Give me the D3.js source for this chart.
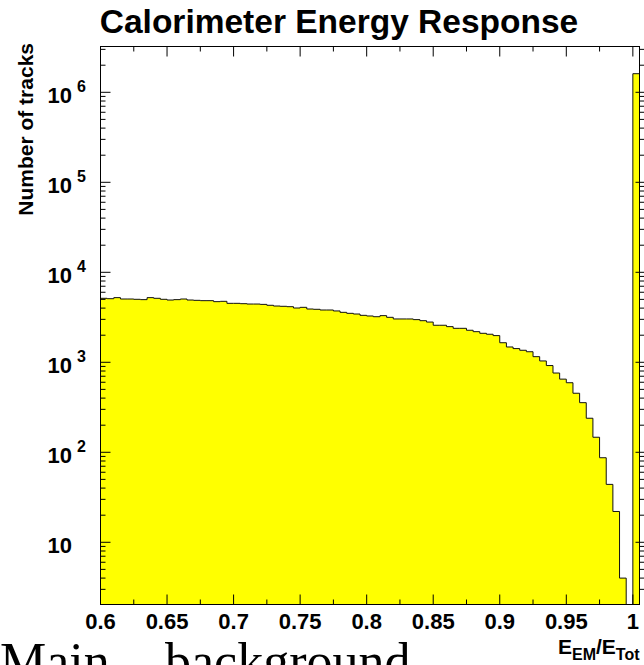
<!DOCTYPE html>
<html><head><meta charset="utf-8">
<script src="https://cdn.jsdelivr.net/npm/d3@7"></script>
<style>html,body{margin:0;padding:0;background:#fff;overflow:hidden}</style>
</head><body>
<svg id="c" width="644" height="665"></svg>
<script>
// Histogram of E_EM / E_Tot: 81 bins of width 0.005 starting at 0.6
const binStart = 0.6;
const binWidth = 0.005;
const counts = [
  5140, 5090, 5230, 5050, 5050, 5010, 4970, 5230, 5140, 5010,
  4920, 4970, 5050, 4920, 4880, 4840, 4840, 4720, 4760, 4520,
  4520, 4480, 4440, 4440, 4400, 4300, 4220, 4190, 4150, 4010,
  4080, 3910, 3880, 3810, 3810, 3720, 3590, 3500, 3440, 3325,
  3270, 3210, 3300, 3160, 3030, 3030, 3030, 2980, 2900, 2800,
  2580, 2580, 2490, 2385, 2385, 2270, 2190, 2100, 2050, 1980,
  1650, 1480, 1420, 1360, 1310, 1155, 1035, 920, 760, 650,
  593, 453, 356, 239, 147, 87, 44, 22, 4, 0,
  1610000
];

// Axis ranges and ticks
const xDomain = [0.6, 1.005];
const yDomain = [2.036, 3.228e6];
const xMajor = [0.6, 0.65, 0.7, 0.75, 0.8, 0.85, 0.9, 0.95, 1.0];
const xLabels = ["0.6", "0.65", "0.7", "0.75", "0.8", "0.85", "0.9", "0.95", "1"];
const xMinor = [0.625, 0.675, 0.725, 0.775, 0.825, 0.875, 0.925, 0.975];
const yExponents = [1, 2, 3, 4, 5, 6];

const titleText = "Calorimeter Energy Response";
const yTitleText = "Number of tracks";

const frame = {left: 100.5, right: 639.5, top: 46.5, bottom: 604.5};
const svg = d3.select("#c");
const sans = "'Liberation Sans', Arial, Helvetica, sans-serif";
const serif = "'Liberation Serif', 'Times New Roman', serif";

const x = d3.scaleLinear().domain(xDomain).range([frame.left, frame.right]);
const y = d3.scaleLog().domain(yDomain).range([frame.bottom, frame.top]);

// Histogram as a filled step outline
const yv = v => (v <= yDomain[0] ? frame.bottom : y(v));
let pts = [[x(binStart), frame.bottom]];
counts.forEach((c, i) => {
  const lo = binStart + i * binWidth, hi = lo + binWidth;
  pts.push([x(lo), yv(c)], [x(hi), yv(c)]);
});
pts.push([x(binStart + counts.length * binWidth), frame.bottom]);
svg.append("path")
  .attr("d", d3.line()(pts))
  .attr("fill", "#ffff00")
  .attr("stroke", "#111")
  .attr("stroke-width", 1);

// Frame
svg.append("rect")
  .attr("x", frame.left).attr("y", frame.top)
  .attr("width", frame.right - frame.left).attr("height", frame.bottom - frame.top)
  .attr("fill", "none").attr("stroke", "#000").attr("stroke-width", 1);

const tk = svg.append("g").attr("stroke", "#000").attr("stroke-width", 1);
// x ticks: bottom pointing up, top pointing down
xMajor.forEach(v => {
  tk.append("line").attr("x1", x(v)).attr("x2", x(v)).attr("y1", frame.bottom).attr("y2", frame.bottom - 10);
  tk.append("line").attr("x1", x(v)).attr("x2", x(v)).attr("y1", frame.top).attr("y2", frame.top + 10);
});
xMinor.forEach(v => {
  tk.append("line").attr("x1", x(v)).attr("x2", x(v)).attr("y1", frame.bottom).attr("y2", frame.bottom - 5);
  tk.append("line").attr("x1", x(v)).attr("x2", x(v)).attr("y1", frame.top).attr("y2", frame.top + 5);
});
// y ticks: left pointing in, right drawn outward
const yMinorVals = [];
for (let e = 0; e <= 6; e++) for (let m = 2; m <= 9; m++) {
  const v = m * Math.pow(10, e);
  if (v > yDomain[0] && v < yDomain[1]) yMinorVals.push(v);
}
yExponents.forEach(e => {
  const yy = y(Math.pow(10, e));
  tk.append("line").attr("x1", frame.left).attr("x2", frame.left + 10).attr("y1", yy).attr("y2", yy);
  tk.append("line").attr("x1", frame.right - 4).attr("x2", frame.right + 10).attr("y1", yy).attr("y2", yy);
});
yMinorVals.forEach(v => {
  const yy = y(v);
  tk.append("line").attr("x1", frame.left).attr("x2", frame.left + 5).attr("y1", yy).attr("y2", yy);
  tk.append("line").attr("x1", frame.right).attr("x2", frame.right + 5).attr("y1", yy).attr("y2", yy);
});

// x tick labels
svg.append("g").selectAll("text").data(xMajor).join("text")
  .attr("x", d => x(d)).attr("y", 628.5)
  .attr("text-anchor", "middle")
  .attr("font-family", sans).attr("font-weight", "bold").attr("font-size", 22)
  .text((d, i) => xLabels[i]);

// y tick labels: 10 with superscript exponent
const yl = svg.append("g").attr("font-family", sans).attr("font-weight", "bold");
yExponents.forEach(e => {
  const yy = y(Math.pow(10, e));
  yl.append("text").attr("x", 72).attr("y", yy + 11).attr("text-anchor", "end")
    .attr("font-size", 22).text("10");
  if (e > 1) {
    yl.append("text").attr("x", 77).attr("y", yy - 0.5)
      .attr("font-size", 16).text(String(e));
  }
});

// Title
svg.append("text").attr("x", 339).attr("y", 33).attr("text-anchor", "middle")
  .attr("font-family", sans).attr("font-weight", "bold").attr("font-size", 33.5)
  .text(titleText);

// y axis title
svg.append("text").attr("transform", "translate(33,43) rotate(-90)")
  .attr("text-anchor", "end")
  .attr("font-family", sans).attr("font-weight", "bold").attr("font-size", 21)
  .text(yTitleText);

// x axis title E_EM / E_Tot
const xt = svg.append("text").attr("x", 558).attr("y", 654)
  .attr("font-family", sans).attr("font-weight", "bold").attr("font-size", 21);
xt.append("tspan").text("E");
xt.append("tspan").attr("font-size", 16).attr("dy", 6).text("EM");
xt.append("tspan").attr("dy", -6).text("/E");
xt.append("tspan").attr("font-size", 16).attr("dy", 6).text("Tot");

// Running text below the figure
svg.append("text").attr("x", 0).attr("y", 679)
  .attr("font-family", serif).attr("font-size", 52)
  .text("Main");
svg.append("text").attr("x", 165).attr("y", 679)
  .attr("font-family", serif).attr("font-size", 52)
  .text("background");
</script>
</body></html>
